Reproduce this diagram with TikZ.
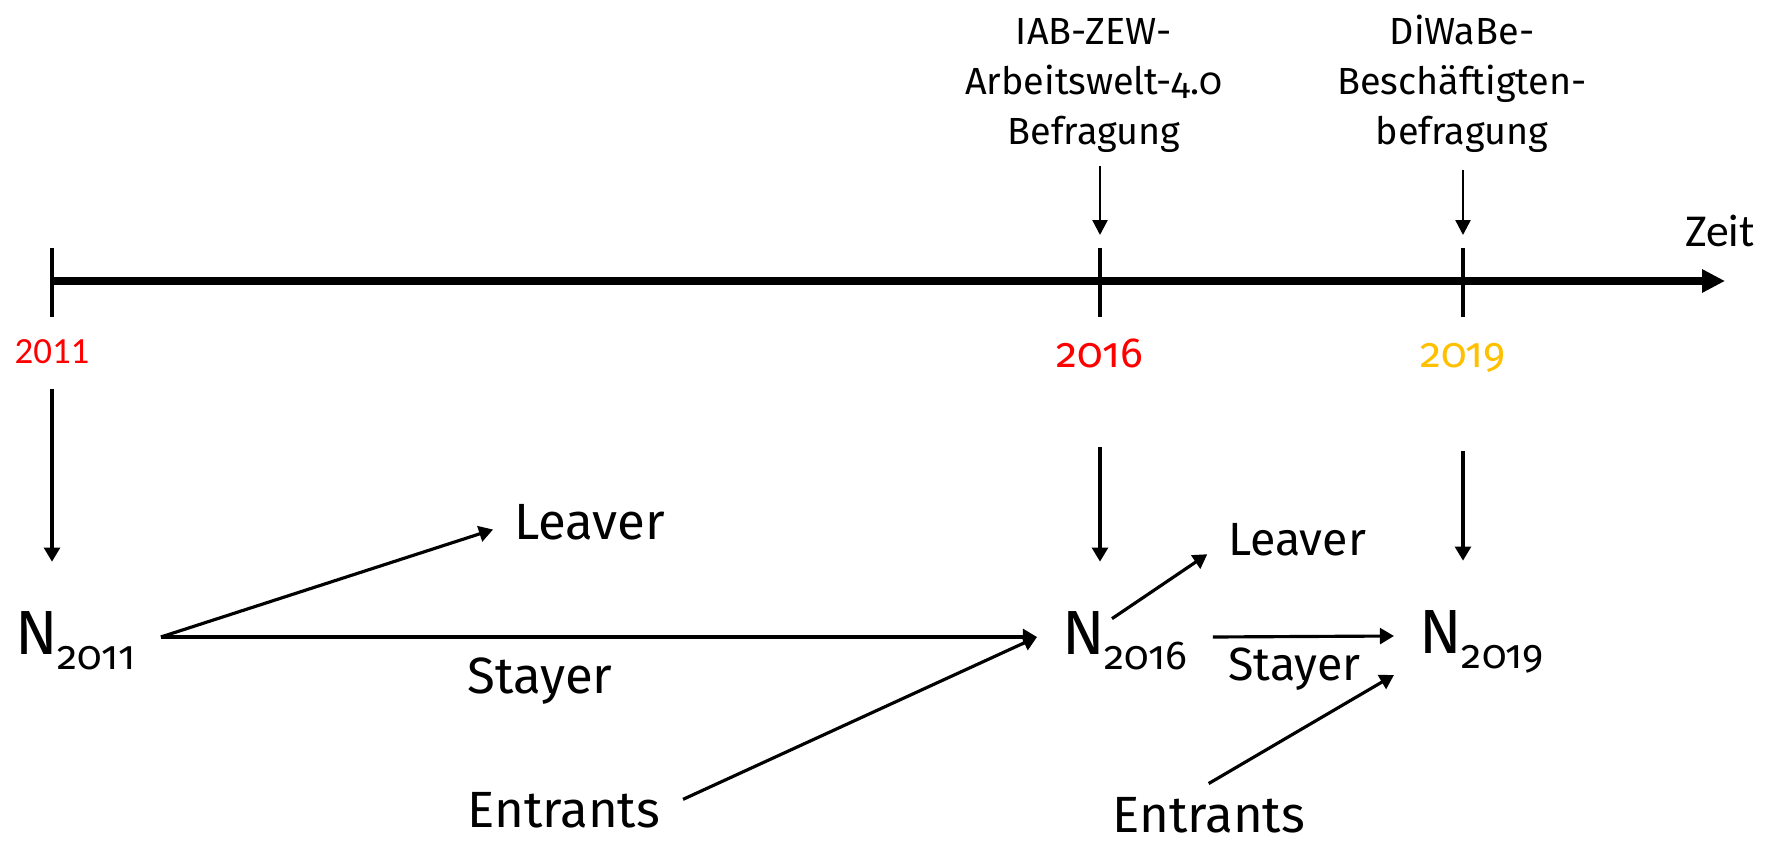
\documentclass[tikz,border=0pt]{standalone}
\usepackage{fontspec}
\setmainfont{Fira Sans}
\newfontfamily\firaold[Numbers=OldStyle]{Fira Sans}
\newfontfamily\carlito{Carlito}
\usetikzlibrary{arrows.meta}
\definecolor{jahrrot}{RGB}{255,0,0}
\definecolor{jahrgelb}{RGB}{255,192,0}
\newcommand{\Nsub}[1]{N\raisebox{-0.32cm}{\firaold\fontsize{23}{23}\selectfont #1}}

\begin{document}
\begin{tikzpicture}[x=0.02cm,y=-0.02cm,
    achse/.style={line width=4pt,-{Triangle[length=13pt,width=12.5pt]}},
    strich/.style={line width=2.3pt},
    pfeil/.style={line width=1.8pt,-{Triangle[length=8pt,width=9pt]}},
    pfeilklein/.style={line width=1.4pt,-{Triangle[length=8.5pt,width=8.5pt]}},
    bestand/.style={inner xsep=0.5cm,inner ysep=1cm,text height=0.84cm,text depth=0.16cm,
        font=\fontsize{35.5}{40}\selectfont,anchor=base west},
    gruppe/.style={inner sep=0pt,anchor=base west,font=\fontsize{29}{32}\selectfont},
    gruppeklein/.style={inner sep=0pt,anchor=base west,font=\fontsize{26.5}{30}\selectfont},
    jahr/.style={inner sep=0pt,anchor=base,font=\firaold\fontsize{24}{26}\selectfont},
    befragung/.style={inner sep=0pt,anchor=north,align=center,
        font=\firaold\fontsize{21.5}{28.5}\selectfont}]
    \useasboundingbox (0,0) rectangle (1779,844);
    % Zeitachse
    \coordinate (t2011) at (52,281);
    \coordinate (t2016) at (1100,281);
    \coordinate (t2019) at (1463,281);
    \coordinate (ende) at (1725,281);
    \draw[achse] (t2011) -- (ende);
    \foreach \t in {t2011,t2016,t2019}
        \draw[strich] (\t) ++(0,-33) -- ++(0,69);
    \node[inner sep=0pt,anchor=base west,font=\carlito\fontsize{26}{28}\selectfont] (zeit) at (1685,247) {Zeit};
    % Befragungen
    \node[befragung] (iab) at (1094,18) {IAB-ZEW-\\Arbeitswelt-4.0\\Befragung};
    \node[befragung] (diwabe) at (1462,15) {DiWaBe-\\Beschäftigten-\\befragung};
    \draw[pfeilklein,shorten <=0.26cm] (iab.south -| t2016) -- ([yshift=0.92cm]t2016);
    \draw[pfeilklein,shorten <=0.34cm] (diwabe.south -| t2019) -- ([yshift=0.92cm]t2019);
    % Jahre
    \node[jahr,text=jahrrot,font=\carlito\fontsize{21}{24}\selectfont] (j2011) at (52,364) {2011};
    \node[jahr,text=jahrrot] (j2016) at (1100,368) {2016};
    \node[jahr,text=jahrgelb] (j2019) at (1463,368) {2019};
    % Bestaende
    \node[bestand] (n2011) at (-10,654) {\Nsub{2011}};
    \node[bestand] (n2016) at (1037,654) {\Nsub{2016}};
    \node[bestand] (n2019) at (1394,653) {\Nsub{2019}};
    \draw[pfeil,shorten <=0.48cm] (j2011.south) -- (j2011.south |- n2011.north);
    \draw[pfeil,shorten <=1.58cm] (j2016.base) -- (j2016.base |- n2016.north);
    \draw[pfeil,shorten <=1.66cm] (j2019.base) -- (j2019.base |- n2019.north);
    % Gruppen
    \node[gruppe] (leaver1) at (514,540) {Leaver};
    \node[gruppe] (stayer1) at (467,693) {Stayer};
    \node[gruppe] (entrants1) at (467,827) {Entrants};
    \node[gruppeklein] (leaver2) at (1228,556) {Leaver};
    \node[gruppeklein] (stayer2) at (1228,680) {Stayer};
    \node[gruppe,text depth=0pt] (entrants2) at (1112,832) {Entrants};
    \draw[pfeil] (n2011.east) -- (n2016.west);
    \draw[pfeil,shorten >=0.44cm] (n2011.east) -- (leaver1.west);
    \draw[pfeil,shorten <=0.5cm] (entrants1.east) -- (n2016.west);
    \draw[pfeil,shorten >=0.5cm] ([xshift=1.5cm,yshift=-1.14cm]n2016.north west) -- (leaver2.west);
    \draw[pfeil] (n2016.east) -- (n2019.west);
    \draw[pfeil] ([yshift=0.26cm]entrants2.north) -- ([yshift=-0.78cm]n2019.west);
\end{tikzpicture}
\end{document}
